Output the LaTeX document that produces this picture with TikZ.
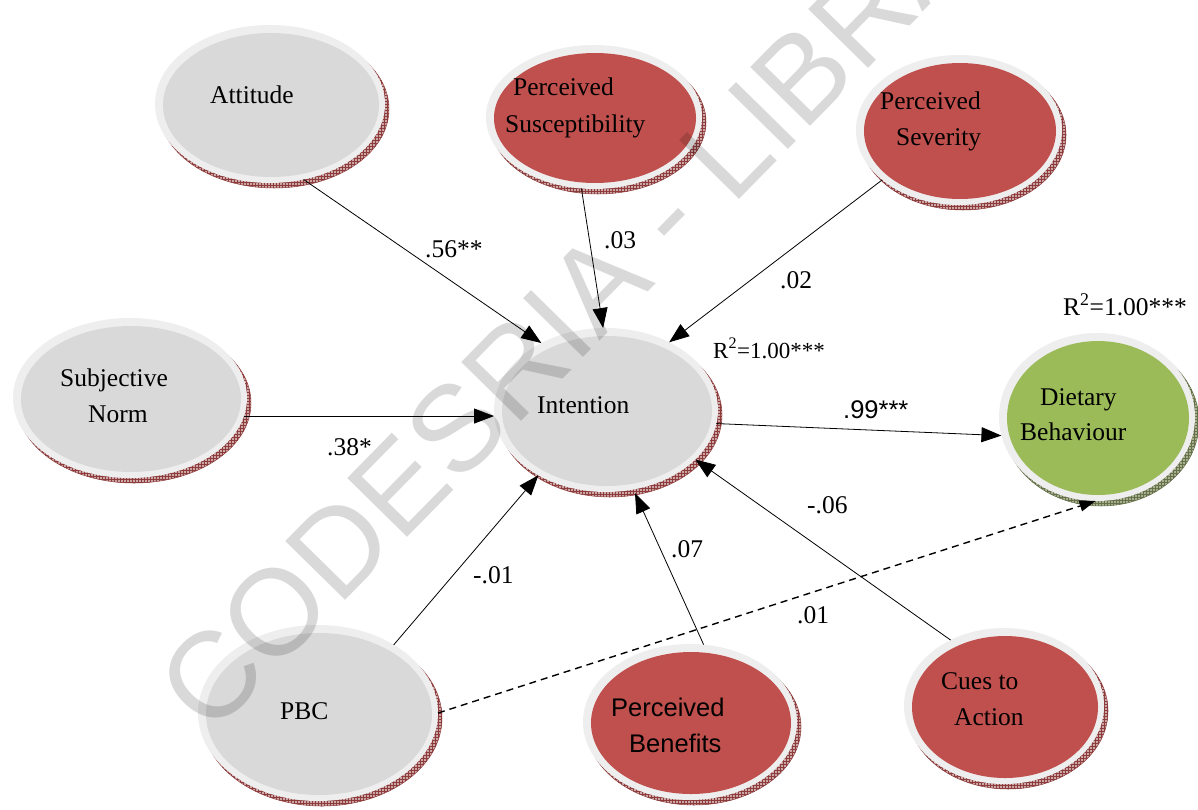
\documentclass[tikz,border=0pt]{standalone}
\usepackage{fontspec}
\setmainfont{Liberation Serif}
\newfontfamily\arialfont{Liberation Sans}
\usetikzlibrary{shapes.geometric,arrows.meta,patterns}

\definecolor{ringgray}{HTML}{EEEEEE}
\definecolor{constructgray}{HTML}{D9D9D9}
\definecolor{hbmred}{HTML}{C0504D}
\definecolor{outcomegreen}{HTML}{9BBB59}
\definecolor{rimredfill}{HTML}{CBA7A7}
\definecolor{rimredline}{HTML}{8E3B3B}
\definecolor{rimgreenfill}{HTML}{A7B08E}
\definecolor{rimgreenline}{HTML}{66704A}

\tikzset{
  ring/.style={ellipse, fill=ringgray, inner sep=0pt, outer sep=0pt},
  rim red/.style={fill=rimredfill, draw=rimredline, line width=0.5pt,
    postaction={pattern=grid, pattern color=rimredline}},
  rim green/.style={fill=rimgreenfill, draw=rimgreenline, line width=0.5pt,
    postaction={pattern=grid, pattern color=rimgreenline}},
  lbl/.style={font=\fontsize{25.5}{30}\selectfont, inner sep=0pt, anchor=base west},
  lblsans/.style={lbl, font=\arialfont\fontsize{25.5}{30}\selectfont},
  conn/.style={draw, line width=0.8pt, -{Triangle[length=20pt,width=15pt]}},
  dashconn/.style={draw, line width=1.4pt, dash pattern=on 7pt off 5pt,
    -{Triangle[length=16pt,width=11pt]}},
}

% name, x, y, x radius, y radius, inner colour, rim style
\newcommand\drawbubble[7]{%
  \path[#7] (#2+4,#3+5) ellipse (#4 and #5);
  \node[ring, minimum width={2*#4pt}, minimum height={2*#5pt}] (#1) at (#2,#3) {};
  \fill[#6] (#2+1,#3+1) ellipse ({#4-7} and {#5-7});
}

\begin{document}
\begin{tikzpicture}[x=1pt, y=-1pt]
\fill[white] (0,0) rectangle (1198,809);
\useasboundingbox (0,0) rectangle (1198,809);

% constructs
\drawbubble{att}{270}{104}{115}{79}{constructgray}{rim red}
\drawbubble{sus}{594}{117}{108}{72}{hbmred}{rim red}
\drawbubble{sev}{959}{130}{103}{75}{hbmred}{rim red}
\drawbubble{sub}{130}{398}{117}{80}{constructgray}{rim red}
\drawbubble{int}{606}{410}{112}{82}{constructgray}{rim red}
\drawbubble{diet}{1097}{417}{98}{84}{outcomegreen}{rim green}
\drawbubble{pbc}{318}{713}{120}{88}{constructgray}{rim red}
\drawbubble{ben}{690}{722}{107}{78}{hbmred}{rim red}
\drawbubble{cue}{1004}{706}{100}{78}{hbmred}{rim red}

% construct names
\node[lbl] (attT) at (210,103) {Attitude};
\node[lbl] (susT1) at (513,95) {Perceived};
\node[lbl] (susT2) at (505,132) {Susceptibility};
\node[lbl] (sevT1) at (880,109) {Perceived};
\node[lbl] (sevT2) at (896,145) {Severity};
\node[lbl] (subT1) at (60,386) {Subjective};
\node[lbl] (subT2) at (88,422) {Norm};
\node[lbl] (intT) at (537,413) {Intention};
\node[lbl] (dietT1) at (1040,405) {Dietary};
\node[lbl] (dietT2) at (1020,440) {Behaviour};
\node[lbl] (pbcT) at (280,719) {PBC};
\node[lblsans] (benT1) at (611,716) {Perceived};
\node[lblsans] (benT2) at (629,752) {Benefits};
\node[lbl] (cueT1) at (941,689) {Cues to};
\node[lbl] (cueT2) at (954,725) {Action};

% paths
\draw[conn] (att.-66.5) -- (int.134.1);
\draw[conn] (sus.-100) -- (int.92.9);
\draw[conn] (sev.-147.4) -- (int.47.3);
\draw[conn] (sub.-9.6) -- (sub.-9.6 -| int.west);
\draw[conn] (pbc.42.1) -- (int.-136.4);
\draw[conn, shorten >=4pt] (ben.80) -- (int.-71.1);
\draw[conn] (cue.129.7) -- (int.-29.2);
\draw[conn] (int.-7.5) -- (diet.191.1);
\draw[dashconn] (pbc.east) -- (diet.-91.4);

% coefficients
\node[lbl] (c1) at (425,257) {.56**};
\node[lbl] (c2) at (604,248) {.03};
\node[lbl] (c3) at (780,288) {.02};
\node[lbl] (c4) at (327,455) {.38*};
\node[lblsans] (c5) at (843,418) {.99***};
\node[lbl] (c6) at (473,583) {-.01};
\node[lbl] (c7) at (671,557) {.07};
\node[lbl] (c8) at (807,513) {-.06};
\node[lbl] (c9) at (797,623) {.01};
\node[lbl, font=\fontsize{23}{28}\selectfont] (r1) at (713,358) {R\textsuperscript{2}=1.00***};
\node[lbl] (r2) at (1063,315) {R\textsuperscript{2}=1.00***};

% watermark
\node[inner sep=0pt, anchor=base west, rotate=45.5, text=black, text opacity=0.15,
  font=\arialfont\fontsize{122}{122}\selectfont] (mark) at (210,738) {CODESRIA - LIBRARY};
\end{tikzpicture}
\end{document}
